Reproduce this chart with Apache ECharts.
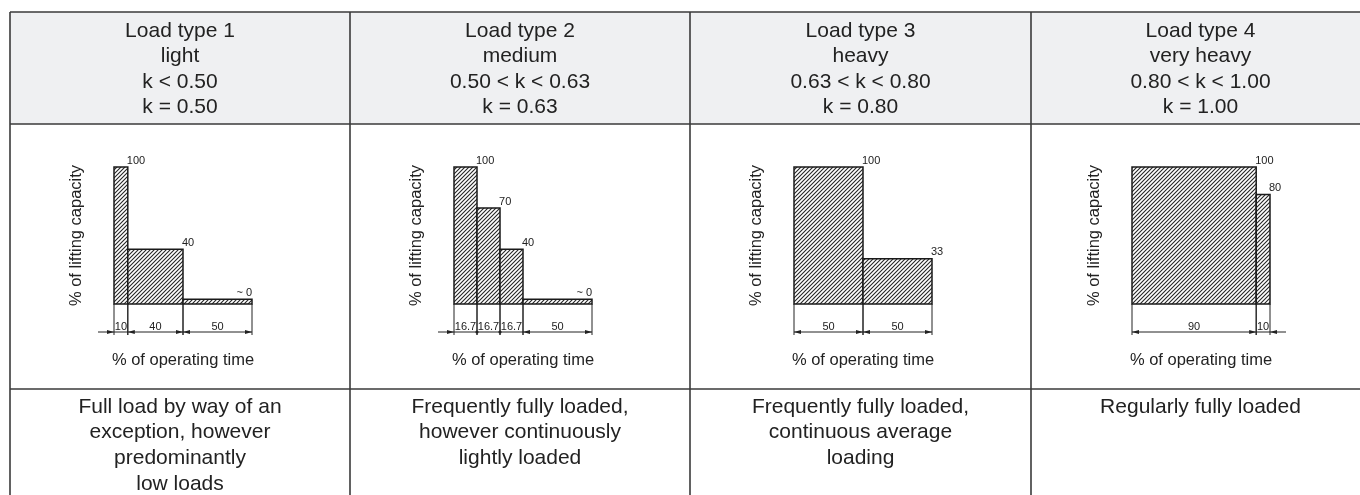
<!DOCTYPE html>
<html><head><meta charset="utf-8">
<script src="https://cdn.jsdelivr.net/npm/echarts@6.0.0/dist/echarts.min.js"></script>
<style>html,body{margin:0;padding:0;background:#fff}#chart{width:1360px;height:495px}</style>
</head><body><div id="chart"></div>
<script>
// ---------------- DATA ----------------
const loadTypes = ['Load type 1', 'Load type 2', 'Load type 3', 'Load type 4'];
const loadClasses = ['light', 'medium', 'heavy', 'very heavy'];
const kRanges = ['k < 0.50', '0.50 < k < 0.63', '0.63 < k < 0.80', '0.80 < k < 1.00'];
const kValues = ['k = 0.50', 'k = 0.63', 'k = 0.80', 'k = 1.00'];
const descriptions = [
  'Full load by way of an\nexception, however\npredominantly\nlow loads',
  'Frequently fully loaded,\nhowever continuously\nlightly loaded',
  'Frequently fully loaded,\ncontinuous average\nloading',
  'Regularly fully loaded'
];
const xAxisName = '% of operating time';
const yAxisName = '% of lifting capacity';

const timeShares1 = [10, 40, 50];
const capacity1 = [100, 40, 3.5];
const timeLabels1 = ['10', '40', '50'];
const valueLabels1 = ['100', '40', '~ 0'];

const timeShares2 = [16.67, 16.67, 16.66, 50];
const capacity2 = [100, 70, 40, 3.5];
const timeLabels2 = ['16.7', '16.7', '16.7', '50'];
const valueLabels2 = ['100', '70', '40', '~ 0'];

const timeShares3 = [50, 50];
const capacity3 = [100, 33];
const timeLabels3 = ['50', '50'];
const valueLabels3 = ['100', '33'];

const timeShares4 = [90, 10];
const capacity4 = [100, 80];
const timeLabels4 = ['90', '10'];
const valueLabels4 = ['100', '80'];

// ---------------- LAYOUT ----------------
const FONT = '"Liberation Sans", Arial, Helvetica, sans-serif';
const INK = '#222222';
const LINE = '#3a3a3a';
const colLefts = [10, 350, 690, 1031];
const colRight = 1370;
const tableTop = 12, headBottom = 124, chartBottom = 389, pageBottom = 500;
const plotLefts = [114, 454, 794, 1132];
const plotW = 138, plotTop = 167, plotH = 137;

const panels = [
  { shares: timeShares1, caps: capacity1, tl: timeLabels1, vl: valueLabels1 },
  { shares: timeShares2, caps: capacity2, tl: timeLabels2, vl: valueLabels2 },
  { shares: timeShares3, caps: capacity3, tl: timeLabels3, vl: valueLabels3 },
  { shares: timeShares4, caps: capacity4, tl: timeLabels4, vl: valueLabels4 }
];

function makeHatch() {
  const c = document.createElement('canvas');
  c.width = 4; c.height = 4;
  const g = c.getContext('2d');
  g.fillStyle = '#ffffff'; g.fillRect(0, 0, 4, 4);
  g.strokeStyle = '#252525'; g.lineWidth = 1.1;
  g.beginPath();
  g.moveTo(-1, 5); g.lineTo(5, -1);
  g.moveTo(-1, 1); g.lineTo(1, -1);
  g.moveTo(3, 5); g.lineTo(5, 3);
  g.stroke();
  return c;
}
const hatch = makeHatch();

function arrow(tipX, y, dir) { // dir: +1 points right, -1 points left
  const L = 7, W = 2;
  return { type: 'polygon', shape: { points: [[tipX, y], [tipX - dir * L, y - W], [tipX - dir * L, y + W]] },
    style: { fill: INK, stroke: null } };
}

const grids = [], xAxes = [], yAxes = [], series = [];
panels.forEach((p, i) => {
  grids.push({ left: plotLefts[i], top: plotTop, width: plotW, height: plotH });
  xAxes.push({ gridIndex: i, type: 'value', min: 0, max: 100,
    name: xAxisName, nameLocation: 'middle', nameGap: 48,
    nameTextStyle: { fontSize: 16.5, color: INK, fontFamily: FONT },
    axisLine: { show: false }, axisTick: { show: false }, axisLabel: { show: false }, splitLine: { show: false } });
  yAxes.push({ gridIndex: i, type: 'value', min: 0, max: 100,
    name: yAxisName, nameLocation: 'middle', nameGap: 29,
    nameTextStyle: { fontSize: 16.5, color: INK, fontFamily: FONT },
    axisLine: { show: false }, axisTick: { show: false }, axisLabel: { show: false }, splitLine: { show: false } });

  const segs = [];
  let acc = 0;
  p.shares.forEach((w, j) => { segs.push([acc, acc + w, p.caps[j]]); acc += w; });

  series.push({
    type: 'custom', xAxisIndex: i, yAxisIndex: i, data: segs, silent: true,
    renderItem: (params, api) => {
      const s = api.value(0), e = api.value(1), v = api.value(2);
      const p0 = api.coord([s, v]), p1 = api.coord([e, 0]);
      const tiny = v < 10;
      return { type: 'group', children: [
        { type: 'rect', shape: { x: p0[0], y: p0[1], width: p1[0] - p0[0], height: p1[1] - p0[1] },
          style: { fill: { image: hatch, repeat: 'repeat' }, stroke: '#1a1a1a', lineWidth: 1.5 } },
        { type: 'text', x: tiny ? p1[0] : p1[0] - 1, y: p0[1] - 1,
          style: { text: p.vl[params.dataIndex], fontSize: 11, fontFamily: FONT, fill: INK,
            align: tiny ? 'right' : 'left', verticalAlign: 'bottom' } }
      ] };
    }
  });

  // dimension lines
  series.push({
    type: 'custom', xAxisIndex: i, yAxisIndex: i, data: segs, silent: true,
    renderItem: (params, api) => {
      const k = params.dataIndex;
      const s = api.value(0), e = api.value(1);
      const a = api.coord([s, 0]), b = api.coord([e, 0]);
      const xs = a[0], xe = b[0], yb = a[1];
      const yl = yb + 28;
      const narrowOf = (idx) => {
        if (idx < 0 || idx >= segs.length) return false;
        return (api.coord([segs[idx][1], 0])[0] - api.coord([segs[idx][0], 0])[0]) < 30;
      };
      const narrow = narrowOf(k);
      const ls = { stroke: INK, lineWidth: 1 };
      const ch = [
        { type: 'line', shape: { x1: xs, y1: yb, x2: xs, y2: yb + 31 }, style: ls },
        { type: 'line', shape: { x1: xe, y1: yb, x2: xe, y2: yb + 31 }, style: ls },
        { type: 'line', shape: { x1: xs, y1: yl, x2: xe, y2: yl }, style: ls },
        { type: 'text', x: (xs + xe) / 2, y: yl,
          style: { text: p.tl[k], fontSize: 11, fontFamily: FONT, fill: INK, align: 'center', verticalAlign: 'bottom' } }
      ];
      if (!narrow) {
        ch.push(arrow(xs, yl, -1), arrow(xe, yl, 1));
      } else {
        if (k === 0) {
          ch.push({ type: 'line', shape: { x1: xs - 16, y1: yl, x2: xs, y2: yl }, style: ls }, arrow(xs, yl, 1));
        }
        if (k === segs.length - 1) {
          ch.push({ type: 'line', shape: { x1: xe, y1: yl, x2: xe + 16, y2: yl }, style: ls }, arrow(xe, yl, -1));
        }
        if (narrowOf(k - 1)) {
          ch.push({ type: 'circle', shape: { cx: xs, cy: yl, r: 1.6 }, style: { fill: INK } });
        }
      }
      return { type: 'group', children: ch };
    }
  });
});

// ---------------- TABLE ----------------
const graphics = [];
graphics.push({ type: 'rect', shape: { x: colLefts[0], y: tableTop, width: colRight - colLefts[0], height: headBottom - tableTop },
  style: { fill: '#eff0f2' }, z: 0 });
const bs = { stroke: LINE, lineWidth: 1.6 };
[tableTop, headBottom, chartBottom].forEach(y => graphics.push({ type: 'line', shape: { x1: colLefts[0], y1: y, x2: colRight, y2: y }, style: bs, z: 2 }));
colLefts.concat([colRight]).forEach(x => graphics.push({ type: 'line', shape: { x1: x, y1: tableTop, x2: x, y2: pageBottom }, style: bs, z: 2 }));
colLefts.forEach((x, i) => {
  const right = i < 3 ? colLefts[i + 1] : colRight;
  const cx = (x + right) / 2;
  graphics.push({ type: 'text', x: cx, y: tableTop + 6.5, z: 3,
    style: { text: [loadTypes[i], loadClasses[i], kRanges[i], kValues[i]].join('\n'), fontSize: 21, lineHeight: 25.3,
      fontFamily: FONT, fill: INK, align: 'center', verticalAlign: 'top' } });
  graphics.push({ type: 'text', x: cx, y: chartBottom + 5, z: 3,
    style: { text: descriptions[i], fontSize: 21, lineHeight: 25.8,
      fontFamily: FONT, fill: INK, align: 'center', verticalAlign: 'top' } });
});

const chart = echarts.init(document.getElementById('chart'), null, { renderer: 'canvas' });
chart.setOption({
  backgroundColor: '#ffffff',
  animation: false,
  grid: grids, xAxis: xAxes, yAxis: yAxes, series: series,
  graphic: graphics
});
</script></body></html>
